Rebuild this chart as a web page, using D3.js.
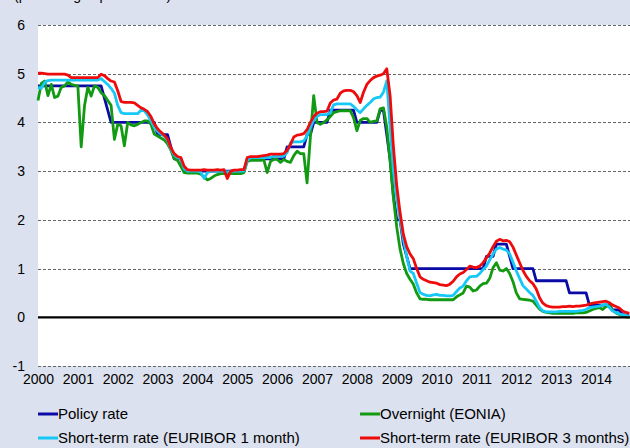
<!DOCTYPE html>
<html>
<head>
<meta charset="utf-8">
<script src="https://cdn.jsdelivr.net/npm/d3@7"></script>
<style>
  html, body { margin: 0; padding: 0; background: #dbe1ee; }
  svg { display: block; font-family: Arial, "Liberation Sans", sans-serif; }
</style>
</head>
<body>
<svg id="chart" width="630" height="448"></svg>
<script>
// Monthly observations, January 2000 to November 2014 (percentages per annum)
const startYear = 2000;
const yearLabels = ["2000","2001","2002","2003","2004","2005","2006","2007","2008","2009","2010","2011","2012","2013","2014"];
const yTicks = [-1, 0, 1, 2, 3, 4, 5, 6];

const policyRate = [
  4.75,4.75,4.75,4.75,4.75,4.75,4.75,4.75,4.75,4.75,4.75,4.75,
  4.75,4.75,4.75,4.75,4.75,4.75,4.75,4.75,4.5,4.25,4.0,4.0,
  4.0,4.0,4.0,4.0,4.0,4.0,4.0,4.0,4.0,4.0,4.0,4.0,
  3.75,3.75,3.75,3.75,3.5,3.25,3.25,3.25,3.0,3.0,3.0,3.0,
  3.0,3.0,3.0,3.0,3.0,3.0,3.0,3.0,3.0,3.0,3.0,3.0,
  3.0,3.0,3.0,3.25,3.25,3.25,3.25,3.25,3.25,3.25,3.25,3.25,
  3.25,3.25,3.25,3.5,3.5,3.5,3.5,3.5,3.5,3.75,3.75,4.0,
  4.0,4.0,4.0,4.0,4.25,4.25,4.25,4.25,4.25,4.25,4.25,4.25,
  4.0,4.0,4.0,4.0,4.0,4.0,4.0,4.25,4.25,3.75,3.25,2.5,
  2.0,2.0,1.5,1.25,1.0,1.0,1.0,1.0,1.0,1.0,1.0,1.0,
  1.0,1.0,1.0,1.0,1.0,1.0,1.0,1.0,1.0,1.0,1.0,1.0,
  1.0,1.0,1.0,1.25,1.25,1.25,1.5,1.5,1.5,1.5,1.25,1.0,
  1.0,1.0,1.0,1.0,1.0,1.0,0.75,0.75,0.75,0.75,0.75,0.75,
  0.75,0.75,0.75,0.75,0.5,0.5,0.5,0.5,0.5,0.5,0.25,0.25,
  0.25,0.25,0.25,0.25,0.25,0.15,0.15,0.15,0.05,0.05,0.05
];

const overnightEonia = [
  4.45,4.8,4.85,4.55,4.78,4.51,4.54,4.72,4.75,4.83,4.78,4.76,
  4.75,3.5,4.34,4.72,4.54,4.75,4.72,4.61,4.55,4.45,4.35,3.65,
  3.96,3.93,3.52,4.0,3.95,3.93,3.96,4.0,4.03,4.03,3.96,3.76,
  3.72,3.68,3.64,3.56,3.43,3.26,3.22,3.1,2.97,2.96,2.96,2.96,
  2.96,2.94,2.88,2.82,2.85,2.9,2.93,2.95,2.95,2.95,2.95,2.95,
  2.95,2.95,2.97,3.2,3.22,3.22,3.22,3.22,3.23,2.97,3.2,3.24,
  3.24,3.18,3.24,3.2,3.18,3.32,3.41,3.36,3.36,2.76,3.7,4.55,
  4.0,3.96,4.0,4.05,4.12,4.2,4.22,4.24,4.24,4.24,4.24,4.1,
  3.83,4.04,4.08,4.08,4.0,4.02,4.03,4.28,4.3,3.9,3.2,2.45,
  1.85,1.4,1.1,0.9,0.78,0.68,0.5,0.38,0.37,0.37,0.36,0.36,
  0.36,0.36,0.36,0.36,0.36,0.36,0.42,0.46,0.5,0.64,0.62,0.54,
  0.56,0.64,0.69,0.7,0.8,1.02,1.12,0.97,0.95,1.0,0.9,0.73,
  0.5,0.38,0.37,0.36,0.35,0.33,0.25,0.17,0.12,0.1,0.09,0.08,
  0.08,0.08,0.08,0.08,0.08,0.08,0.09,0.09,0.09,0.1,0.13,0.16,
  0.18,0.2,0.16,0.22,0.24,0.14,0.09,0.06,0.03,0.01,0.0
];

const euribor1m = [
  4.72,4.7,4.82,4.86,4.87,4.87,4.87,4.87,4.87,4.87,4.87,4.87,
  4.87,4.87,4.87,4.87,4.87,4.87,4.87,4.9,4.84,4.78,4.7,4.6,
  4.35,4.2,4.18,4.18,4.18,4.18,4.18,4.25,4.24,4.15,4.03,3.9,
  3.82,3.76,3.72,3.64,3.45,3.33,3.28,3.25,3.05,3.0,3.0,3.0,
  3.0,2.98,2.85,2.97,3.0,3.0,3.0,3.0,3.0,2.98,3.0,3.0,
  3.0,3.0,3.0,3.22,3.28,3.28,3.28,3.28,3.28,3.28,3.28,3.31,
  3.31,3.31,3.31,3.38,3.58,3.6,3.6,3.6,3.62,3.72,3.9,4.04,
  4.12,4.16,4.16,4.16,4.2,4.36,4.38,4.38,4.38,4.38,4.38,4.33,
  4.26,4.2,4.28,4.35,4.41,4.48,4.51,4.52,4.62,4.85,3.9,3.0,
  2.45,2.0,1.6,1.25,0.95,0.9,0.7,0.51,0.47,0.45,0.44,0.46,
  0.47,0.45,0.45,0.44,0.44,0.45,0.53,0.6,0.64,0.75,0.83,0.84,
  0.84,0.9,0.98,1.05,1.18,1.3,1.4,1.43,1.4,1.38,1.3,1.13,
  0.95,0.8,0.65,0.58,0.51,0.45,0.33,0.2,0.13,0.11,0.11,0.11,
  0.11,0.12,0.12,0.12,0.12,0.12,0.12,0.13,0.14,0.16,0.2,0.21,
  0.22,0.23,0.25,0.27,0.2,0.13,0.1,0.07,0.05,0.04,0.03
];

const euribor3m = [
  5.01,5.01,5.0,4.99,4.99,4.99,4.99,4.99,4.99,4.97,4.92,4.92,
  4.92,4.92,4.92,4.92,4.92,4.92,4.92,4.99,4.96,4.9,4.85,4.83,
  4.65,4.43,4.41,4.41,4.41,4.4,4.35,4.3,4.27,4.22,4.12,3.97,
  3.87,3.8,3.74,3.66,3.48,3.36,3.3,3.28,3.1,3.03,3.02,3.02,
  3.02,3.02,3.03,3.02,3.02,3.02,3.03,3.02,3.03,2.85,3.0,3.02,
  3.02,3.03,3.03,3.28,3.3,3.3,3.3,3.31,3.32,3.33,3.35,3.35,
  3.35,3.35,3.36,3.43,3.55,3.7,3.74,3.75,3.77,3.85,4.0,4.12,
  4.19,4.22,4.22,4.23,4.4,4.46,4.48,4.6,4.65,4.66,4.66,4.63,
  4.55,4.41,4.62,4.78,4.86,4.92,4.95,4.97,5.0,5.1,4.55,3.5,
  2.7,2.15,1.7,1.45,1.3,1.2,1.0,0.83,0.78,0.75,0.72,0.71,
  0.7,0.67,0.66,0.65,0.68,0.74,0.83,0.89,0.92,0.98,1.05,1.03,
  1.02,1.05,1.12,1.22,1.32,1.45,1.56,1.6,1.57,1.58,1.55,1.44,
  1.28,1.12,0.96,0.84,0.75,0.69,0.58,0.4,0.29,0.24,0.22,0.21,
  0.21,0.21,0.22,0.22,0.23,0.22,0.23,0.23,0.24,0.25,0.27,0.29,
  0.3,0.31,0.32,0.33,0.3,0.25,0.22,0.19,0.13,0.1,0.08
];

const seriesNames = ["Policy rate", "Overnight (EONIA)", "Short-term rate (EURIBOR 1 month)", "Short-term rate (EURIBOR 3 months)"];
const seriesColors = ["#0a0aa6", "#129a12", "#16c8f5", "#ee0b0b"];
const seriesValues = [policyRate, overnightEonia, euribor1m, euribor3m];

const svg = d3.select("#chart");
const plot = { left: 38, right: 630, top: 25, bottom: 366 };
const FONT = "Arial, 'Liberation Sans', sans-serif";

const x = d3.scaleLinear()
  .domain([startYear, startYear + (plot.right - plot.left) / 39.86])
  .range([plot.left, plot.right]);
const y = d3.scaleLinear().domain([-1, 6]).range([plot.bottom, plot.top]);

// Unit label running off the top edge
svg.append("text")
  .attr("x", 14).attr("y", 0)
  .attr("font-size", 14).attr("fill", "#000")
  .text("(percentages per annum)");

// White plotting area
svg.append("rect")
  .attr("x", plot.left).attr("y", y(6))
  .attr("width", plot.right - plot.left).attr("height", y(-1) - y(6))
  .attr("fill", "#fff");

// Dashed gridlines (zero drawn separately as a solid baseline)
svg.append("g").selectAll("line")
  .data(yTicks.filter(d => d !== 0))
  .join("line")
  .attr("x1", plot.left).attr("x2", plot.right)
  .attr("y1", d => Math.round(y(d)) + 0.5).attr("y2", d => Math.round(y(d)) + 0.5)
  .attr("stroke", "#666").attr("stroke-width", 1)
  .attr("stroke-dasharray", "3,2");

// Y axis labels (plain hyphen for negatives)
const yAxis = d3.axisLeft(y).tickValues(yTicks).tickSize(0).tickPadding(13).tickFormat(d => String(d));
const gy = svg.append("g").attr("transform", `translate(${plot.left},0)`).call(yAxis);
gy.select(".domain").remove();
gy.selectAll("text").attr("font-size", 14).attr("fill", "#000").attr("font-family", FONT);

// X axis year labels
const xAxis = d3.axisBottom(x)
  .tickValues(yearLabels.map(Number))
  .tickSize(0).tickPadding(8)
  .tickFormat((d, i) => yearLabels[i]);
const gx = svg.append("g").attr("transform", `translate(0,${plot.bottom})`).call(xAxis);
gx.select(".domain").remove();
gx.selectAll("text").attr("font-size", 14).attr("fill", "#000").attr("font-family", FONT);

// Series lines
const line = d3.line()
  .x((d, i) => x(startYear + i / 12))
  .y(d => y(d));

const gLines = svg.append("g");
seriesValues.forEach((vals, k) => {
  gLines.append("path")
    .datum(vals)
    .attr("d", line)
    .attr("fill", "none")
    .attr("stroke", seriesColors[k])
    .attr("stroke-width", 2.8)
    .attr("stroke-linejoin", "round");
});

// Zero baseline
svg.append("line")
  .attr("x1", plot.left).attr("x2", plot.right)
  .attr("y1", y(0)).attr("y2", y(0))
  .attr("stroke", "#000").attr("stroke-width", 2.2);

// Legend: two columns, two rows
const legendPos = [
  { x: 38, y: 414 },
  { x: 360, y: 414 },
  { x: 38, y: 438 },
  { x: 360, y: 438 }
];
const gLeg = svg.append("g");
seriesNames.forEach((name, k) => {
  const p = legendPos[k];
  gLeg.append("line")
    .attr("x1", p.x).attr("x2", p.x + 20)
    .attr("y1", p.y).attr("y2", p.y)
    .attr("stroke", seriesColors[k]).attr("stroke-width", 3);
  gLeg.append("text")
    .attr("x", p.x + 20).attr("y", p.y + 5)
    .attr("font-size", 15).attr("fill", "#000")
    .text(name);
});
</script>
</body>
</html>
